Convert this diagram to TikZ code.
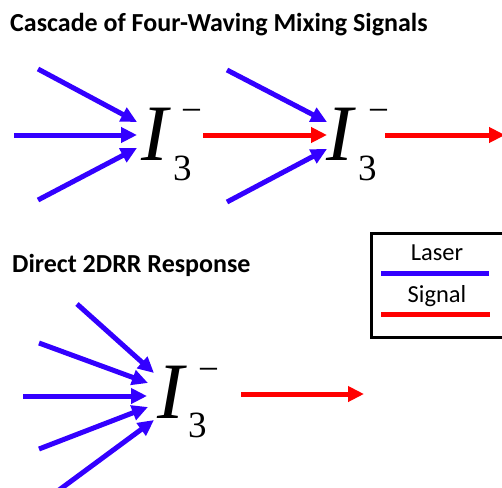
\documentclass[tikz,border=0pt]{standalone}
\usepackage{fontspec}
\setmainfont{Carlito}
\newfontfamily\tnr{Liberation Serif}
\usetikzlibrary{arrows.meta}
\definecolor{lasblue}{RGB}{51,0,255}
\definecolor{sigred}{RGB}{255,0,0}
\begin{document}
\begin{tikzpicture}[x=1pt,y=-1pt,
  laser/.style={draw=lasblue,line width=5pt,-{Triangle[length=16pt,width=15pt]}},
  signal/.style={draw=sigred,line width=5pt,-{Triangle[length=16pt,width=15pt]}},
  title/.style={anchor=base west,inner sep=0pt,font=\fontsize{26}{30}\selectfont\bfseries},
  ibig/.style={anchor=base west,inner sep=0pt,font=\tnr\itshape\fontsize{80}{80}\selectfont},
  isub/.style={anchor=base west,inner sep=0pt,font=\tnr\fontsize{37}{37}\selectfont},
  leg/.style={anchor=base,inner sep=0pt,font=\fontsize{24.5}{28}\selectfont},
  legline/.style={line width=5pt},
  legbox/.style={draw=black,line width=3pt}]
\useasboundingbox (0,0) rectangle (502,487);
\begin{scope}
\clip (0,0) rectangle (502,487);
% titles
\node[title] (t1) at (10,32) {Cascade of Four-Waving Mixing Signals};
\node[title] (t2) at (12,272) {Direct 2DRR Response};
% first I3-
\node[ibig] (i1) at (141,160) {I};
\node[isub] (s1) at (173,180) {3};
\node[isub] (m1) at (181,122) {−};
% second
\node[ibig] (i2) at (326,160) {I};
\node[isub] (s2) at (358,180) {3};
\node[isub] (m2) at (368,122) {−};
% third
\node[ibig] (i3) at (157,418) {I};
\node[isub] (s3) at (188,437) {3};
\node[isub] (m3) at (198,381) {−};
% coordinates top row
\coordinate (a1s) at (38,69);  \coordinate (a1e) at (137,122);
\coordinate (a2s) at (14,135); \coordinate (a2e) at (137,135);
\coordinate (a3s) at (38,200); \coordinate (a3e) at (137,148);
\coordinate (r1s) at (203,135); \coordinate (r1e) at (327,135);
\coordinate (b1s) at (227,70); \coordinate (b1e) at (327,122);
\coordinate (b3s) at (227,202); \coordinate (b3e) at (327,149);
\coordinate (r2s) at (385,135); \coordinate (r2e) at (505,135);
\draw[laser] (a1s) -- (a1e);
\draw[laser] (a2s) -- (a2e);
\draw[laser] (a3s) -- (a3e);
\draw[signal] (r1s) -- (r1e);
\draw[laser] (b1s) -- (b1e);
\draw[laser] (b3s) -- (b3e);
\draw[signal] (r2s) -- (r2e);
% bottom
\coordinate (c1s) at (77,304);  \coordinate (c1e) at (154,373);
\coordinate (c2s) at (39,343);  \coordinate (c2e) at (148,383);
\coordinate (c3s) at (23,396);  \coordinate (c3e) at (147,396);
\coordinate (c4s) at (39,449);  \coordinate (c4e) at (148,407);
\coordinate (c5s) at (55,493);  \coordinate (c5e) at (154,420);
\coordinate (r3s) at (241,394); \coordinate (r3e) at (364,394);
\draw[laser] (c1s) -- (c1e);
\draw[laser] (c2s) -- (c2e);
\draw[laser] (c3s) -- (c3e);
\draw[laser] (c4s) -- (c4e);
\draw[laser] (c5s) -- (c5e);
\draw[signal] (r3s) -- (r3e);
% legend
\draw[legbox] (371,233) rectangle (512,337);
\node[leg] (l1) at (437,260) {Laser};
\coordinate (l1s) at (381,273); \coordinate (l1e) at (489,273);
\draw[legline,draw=lasblue] (l1s) -- (l1e);
\node[leg] (l2) at (437,302) {Signal};
\coordinate (l2s) at (381,314); \coordinate (l2e) at (490,314);
\draw[legline,draw=sigred] (l2s) -- (l2e);
\end{scope}
\end{tikzpicture}
\end{document}
